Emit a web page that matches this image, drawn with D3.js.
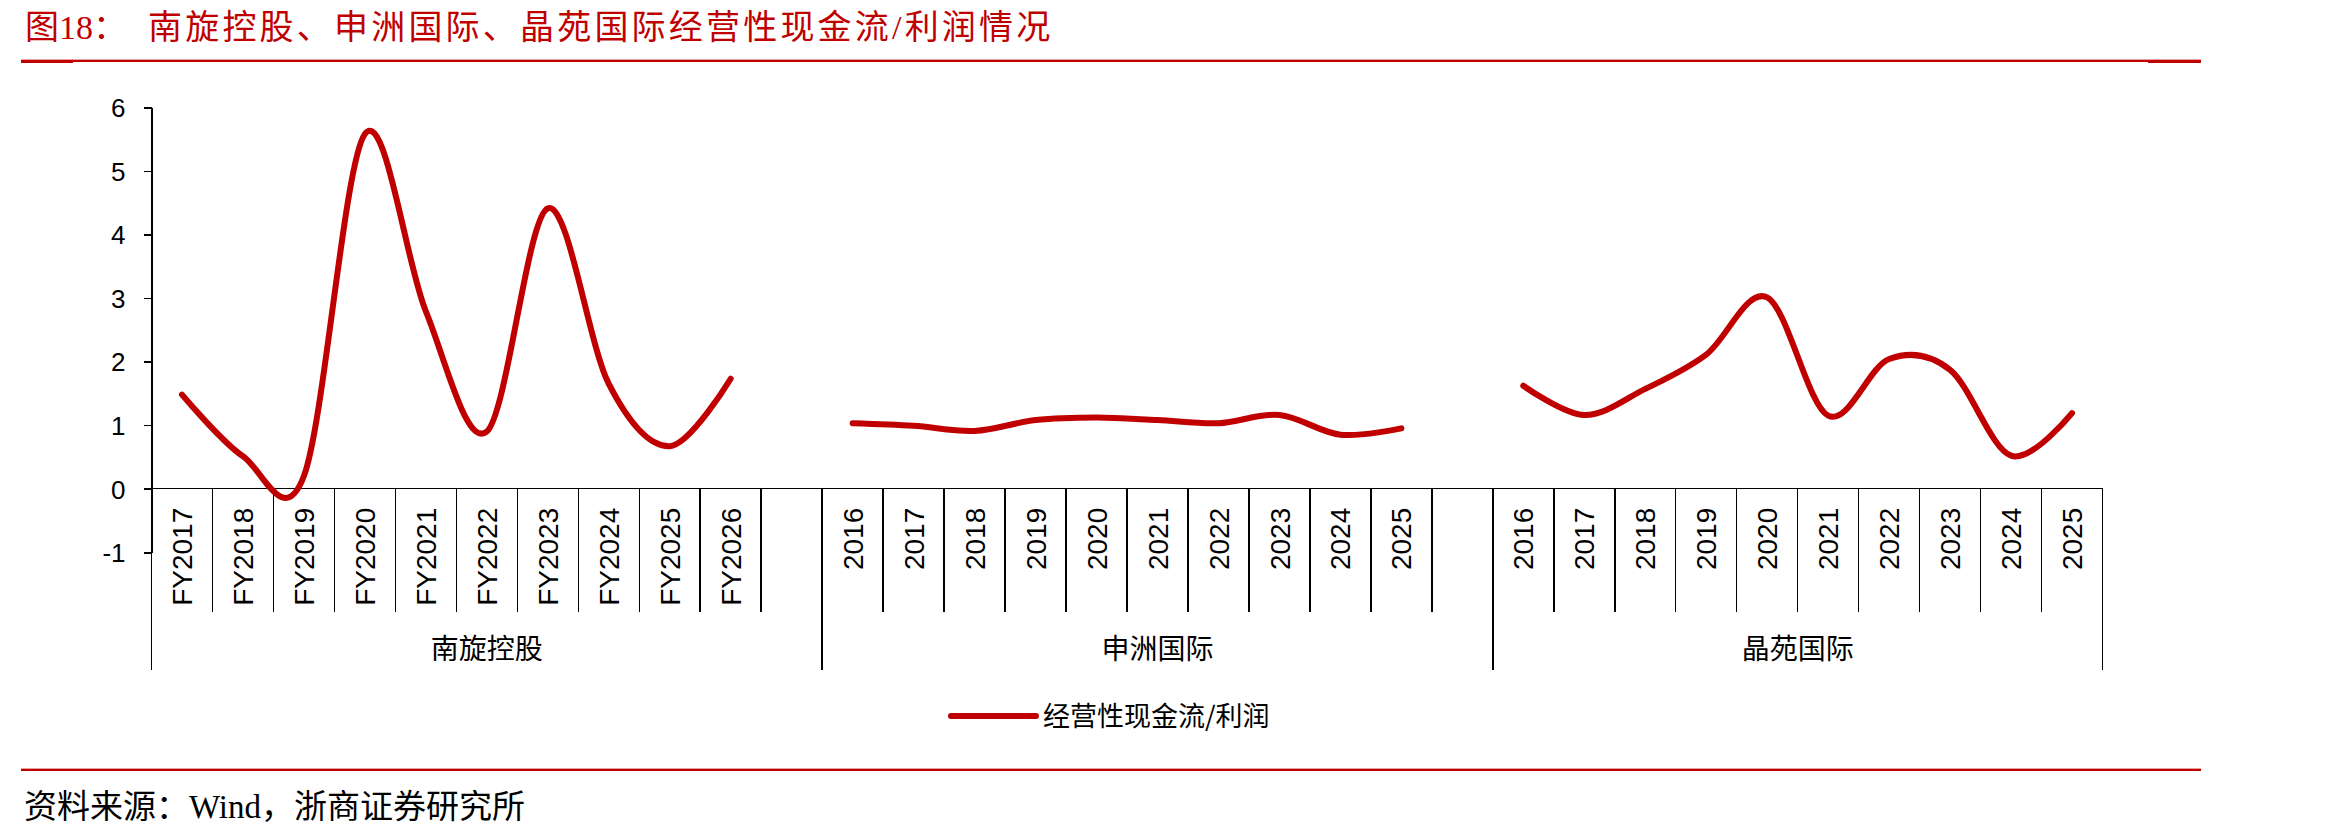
<!DOCTYPE html>
<html lang="zh">
<head>
<meta charset="utf-8">
<title>经营性现金流/利润情况</title>
<script src="https://cdn.jsdelivr.net/npm/d3@7"></script>
<style>
  body { margin: 0; background: #fff; }
  svg { display: block; }
  .axis path, .axis line { stroke: #000; stroke-width: 1.5; shape-rendering: crispEdges; }
  .axis text { fill: #000; font-family: "Liberation Sans", Arial, sans-serif; }
  .cjk { font-family: "Noto Sans CJK SC", sans-serif; }
  .serif { font-family: "Liberation Serif", "Noto Sans CJK SC", serif; }
  .line { fill: none; stroke: #C00000; stroke-width: 6; stroke-linejoin: round; stroke-linecap: round; }
</style>
</head>
<body>
<script>
// chart data
var groups = ["南旋控股", "申洲国际", "晶苑国际"];
var nanxuanYears = ["FY2017", "FY2018", "FY2019", "FY2020", "FY2021", "FY2022", "FY2023", "FY2024", "FY2025", "FY2026"];
var nanxuanValues = [1.48, 0.51, 0.2, 5.58, 2.79, 0.9, 4.41, 1.65, 0.67, 1.73];
var shenzhouYears = ["2016", "2017", "2018", "2019", "2020", "2021", "2022", "2023", "2024", "2025"];
var shenzhouValues = [1.03, 0.99, 0.91, 1.08, 1.12, 1.08, 1.03, 1.16, 0.85, 0.95];
var jingyuanYears = ["2016", "2017", "2018", "2019", "2020", "2021", "2022", "2023", "2024", "2025"];
var jingyuanValues = [1.62, 1.16, 1.57, 2.11, 3.01, 1.15, 2.04, 1.87, 0.52, 1.19];
var yTicks = [-1, 0, 1, 2, 3, 4, 5, 6];
var seriesName = "经营性现金流/利润";
var title = "南旋控股、申洲国际、晶苑国际经营性现金流/利润情况";
var source = "资料来源：Wind，浙商证券研究所";

var w = 2330, h = 838;
var red = "#C00000";

// one category per year, plus an empty slot after the first two groups
var rows = [];
[[nanxuanYears, nanxuanValues], [shenzhouYears, shenzhouValues], [jingyuanYears, jingyuanValues]]
  .forEach(function(g, gi) {
    g[0].forEach(function(yr, i) {
      rows.push({ key: gi + "|" + yr, label: yr, group: gi, value: g[1][i] });
    });
    if (gi < 2) rows.push({ key: "gap" + gi, label: "", group: gi, value: null });
  });

var xScale = d3.scaleBand()
  .domain(rows.map(function(d) { return d.key; }))
  .range([151.5, 2102.5])
  .padding(0);

var yScale = d3.scaleLinear()
  .domain([-1, 6])
  .range([552.3, 107.3]);

var svg = d3.select("body").append("svg")
  .attr("width", w)
  .attr("height", h);

// title
svg.append("text")
  .attr("class", "serif")
  .attr("x", 25).attr("y", 39)
  .attr("font-size", 34)
  .attr("fill", red)
  .text("图18：");
svg.append("text")
  .attr("class", "serif")
  .attr("x", 148).attr("y", 39)
  .attr("font-size", 34)
  .attr("letter-spacing", 3.2)
  .attr("fill", red)
  .text(title);

// red rules
svg.append("line").attr("x1", 21).attr("x2", 2201).attr("y1", 59.5).attr("y2", 59.5)
  .attr("stroke", "#e8a0a0").attr("stroke-width", 1);
svg.append("line").attr("x1", 21).attr("x2", 2201).attr("y1", 61).attr("y2", 61)
  .attr("stroke", red).attr("stroke-width", 2);
svg.append("line").attr("x1", 21).attr("x2", 73).attr("y1", 62).attr("y2", 62)
  .attr("stroke", red).attr("stroke-width", 2);
svg.append("line").attr("x1", 2148).attr("x2", 2201).attr("y1", 62).attr("y2", 62)
  .attr("stroke", red).attr("stroke-width", 2);
svg.append("line").attr("x1", 21).attr("x2", 2201).attr("y1", 768.5).attr("y2", 768.5)
  .attr("stroke", "#e8a0a0").attr("stroke-width", 1);
svg.append("line").attr("x1", 21).attr("x2", 2201).attr("y1", 770).attr("y2", 770)
  .attr("stroke", red).attr("stroke-width", 2);

// y axis
var yAxis = d3.axisLeft(yScale)
  .tickValues(yTicks)
  .tickFormat(function(d) { return String(d); })
  .tickSize(8)
  .tickSizeOuter(0)
  .tickPadding(18);
svg.append("g")
  .attr("class", "axis")
  .attr("transform", "translate(151.5,0)")
  .call(yAxis)
  .selectAll("text")
  .attr("font-size", 26)
  .attr("dy", "0.36em");

// x axis with rotated category labels
var xAxis = d3.axisBottom(xScale)
  .tickSize(0)
  .tickFormat(function(k) { return rows.find(function(d) { return d.key === k; }).label; });
var xg = svg.append("g")
  .attr("class", "axis")
  .attr("transform", "translate(0," + yScale(0) + ")")
  .call(xAxis);
xg.select(".domain").attr("d", "M" + xScale.range()[0] + ",0H" + xScale.range()[1]);
xg.selectAll(".tick text")
  .attr("font-size", 28)
  .attr("transform", "rotate(-90)")
  .attr("text-anchor", "end")
  .attr("x", -19)
  .attr("y", 0)
  .attr("dy", "0.36em");

// category boundaries
var y0 = yScale(0);
var bounds = rows.map(function(d) { return xScale(d.key); });
bounds.push(xScale.range()[1]);
var groupEdges = [0, 11, 22, 32].map(function(i) { return bounds[i]; });
svg.append("g").selectAll("line")
  .data(bounds)
  .enter().append("line")
  .attr("x1", function(d) { return d; })
  .attr("x2", function(d) { return d; })
  .attr("y1", y0)
  .attr("y2", function(d) { return groupEdges.indexOf(d) >= 0 ? 670 : 611.7; })
  .attr("stroke", "#000")
  .attr("stroke-width", 1.5)
  .attr("shape-rendering", "crispEdges");

// group labels
svg.append("g").selectAll("text")
  .data(groups)
  .enter().append("text")
  .attr("class", "cjk")
  .attr("x", function(d, i) { return (groupEdges[i] + groupEdges[i + 1]) / 2; })
  .attr("y", 659)
  .attr("font-size", 28)
  .attr("text-anchor", "middle")
  .attr("fill", "#000")
  .text(function(d) { return d; });

// smoothed line, broken at empty categories
var line = d3.line()
  .defined(function(d) { return d.value !== null; })
  .x(function(d) { return xScale(d.key) + xScale.bandwidth() / 2; })
  .y(function(d) { return yScale(d.value); })
  .curve(d3.curveCardinal.tension(0));

svg.append("path")
  .datum(rows)
  .attr("class", "line")
  .attr("d", line);

// legend
svg.append("line")
  .attr("x1", 951).attr("x2", 1036)
  .attr("y1", 716).attr("y2", 716)
  .attr("stroke", red).attr("stroke-width", 6).attr("stroke-linecap", "round");
svg.append("text")
  .attr("class", "cjk")
  .attr("x", 1043).attr("y", 716)
  .attr("dy", "0.36em")
  .attr("font-size", 27)
  .attr("fill", "#000")
  .text(seriesName);

// source
svg.append("text")
  .attr("class", "serif")
  .attr("x", 24).attr("y", 818)
  .attr("font-size", 33)
  .attr("fill", "#000")
  .text(source);
</script>
</body>
</html>
